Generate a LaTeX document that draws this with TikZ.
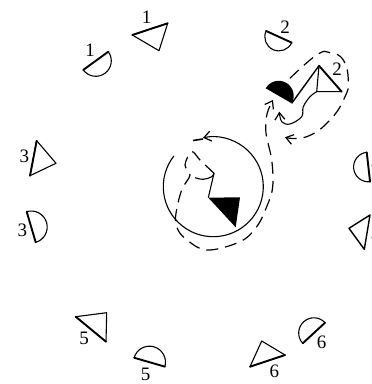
\documentclass[tikz,border=0pt]{standalone}
\usepackage{fontspec}
\setmainfont{Liberation Serif}
\usetikzlibrary{arrows.meta}
\tikzset{
  outline/.style={line width=1.1pt,line join=round},
  heavy/.style={line width=1.9pt,line cap=round},
  barb/.style={-{Straight Barb[length=7pt,width=10pt,line width=1.2pt]}},
  track/.style={line width=1.2pt,dash pattern=on 12pt off 7pt,barb},
  solidpath/.style={line width=1.1pt},
  num/.style={font=\fontsize{19}{19}\selectfont,inner sep=0pt}
}
\begin{document}
\begin{tikzpicture}[x=1pt,y=1pt]
\useasboundingbox (0,0) rectangle (372,384);
\clip (0,0) rectangle (372,384);
% half discs
\foreach \px/\py/\ang/\rad in {95.8/323.2/-144/15.5,278.9/347.2/155.5/14.1,31.2/157/-73.6/16,
  149.5/21.8/-16.2/16,313.9/51/42.7/15.2,368.4/217/96.4/14.8}{
  \draw[heavy,rotate around={\ang:(\px,\py)}] (\px-\rad,\py) -- (\px+\rad,\py);
  \draw[outline,rotate around={\ang:(\px,\py)}] (\px+\rad,\py) arc[start angle=0,end angle=180,radius=\rad];
}
\fill[rotate around={-30:(278.7,288.2)}] (263.7,288.2) arc[start angle=180,end angle=0,radius=15] -- cycle;
% triangles
\draw[outline] (132.3,349) -- (167.7,360.7) -- (159,333.3) -- cycle;
\draw[heavy] (132.3,349) -- (167.7,360.7);
\draw[outline] (36.7,243.3) -- (56,220.7) -- (30,208.3) -- cycle;
\draw[heavy] (36.7,243.3) -- (30,208.3);
\draw[outline] (75.7,67.3) -- (106.7,71.3) -- (106,42.3) -- cycle;
\draw[heavy] (75.7,67.3) -- (106,42.3);
\draw[outline] (250,17.3) -- (285,29) -- (261.7,43) -- cycle;
\draw[heavy] (250,17.3) -- (285,29);
\draw[line width=1.4pt,line join=round] (370,169) -- (349,155.7) -- (364.3,134.7) -- cycle;
\draw[outline] (319,318.3) -- (316.7,292.3) -- (341.7,292.3);
\draw[heavy] (319,318.3) -- (341.7,292.3);
\draw[line width=1.4pt] (291.7,280.7) -- (319,318.3);
\fill (208.3,186.3) -- (240,186.7) -- (235.7,156.7) -- cycle;
% numbers
\node[num] at (146.7,367) {1};
\node[num] at (90,334) {1};
\node[num] at (285,357) {2};
\node[num] at (337,315) {2};
\node[num] at (24.3,228) {3};
\node[num] at (22.3,154) {3};
\node[num] at (84,46) {5};
\node[num] at (145.7,10) {5};
\node[num] at (274.3,13) {6};
\node[num] at (321.7,42) {6};
\node[num] at (376,221) {4};
\node[num] at (376,149) {4};
% moves
\draw[track] plot[smooth,tension=.8] coordinates {(290,305.7) (316.7,329) (330,331.3) (343.3,324) (348.3,304) (345,287.3) (330,264) (306.7,247.3) (285,246.7)};
\draw[solidpath,barb] plot[smooth,tension=.6] coordinates {(316.7,292.3) (310,287.3) (303.3,277.3) (301.7,267.3) (290,260) (281.7,262.3) (279.3,272.3)};
\draw[track] plot[smooth,tension=.6] coordinates {(214,210.7) (200,224) (191.7,232.3) (185,219) (190,209) (181.7,194) (176,170.7) (176.7,157.3) (185,145.7) (206.7,134) (240,142.3) (256.7,157.3) (267,178) (272.7,197.3) (271.7,224) (266,251) (267,270) (273,284)};
\draw[solidpath] (208.3,186.3) -- (214,210.7);
\draw[solidpath] plot[smooth,tension=.7] coordinates {(195,206.3) (203.3,204.7) (211.7,207.3) (214,210.7)};
\draw[solidpath,barb] (213.3,197.3) ++(142:50) arc[start angle=142,end angle=462,radius=50];
\draw[line width=1.6pt] (203,245) -- (193,243.5);
\end{tikzpicture}
\end{document}
